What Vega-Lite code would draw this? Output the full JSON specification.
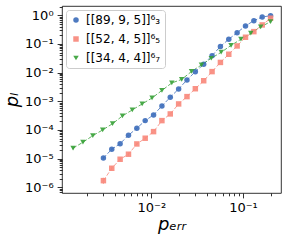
{
  "$schema": "https://vega.github.io/schema/vega-lite/v6.json",
  "autosize": {"type": "none"},
  "padding": {"left": 62, "top": 6, "right": 7, "bottom": 47},
  "width": 219,
  "height": 187,
  "config": {
    "font": "DejaVu Sans",
    "view": {"stroke": "#000000", "strokeWidth": 0.8},
    "axis": {"grid": false, "domain": false, "tickColor": "#000000", "tickWidth": 0.8, "labelColor": "#000000", "labelFont": "DejaVu Sans", "labelFontSize": 13, "labelPadding": 4, "titleFont": "DejaVu Sans", "titleFontSize": 18, "titleFontWeight": "normal", "titleFontStyle": "italic", "titleColor": "#000000"},
    "legend": {"orient": "top-left", "offset": 4, "fillColor": "white", "strokeColor": "#cccccc", "cornerRadius": 3, "padding": 4, "rowPadding": 7, "symbolSize": 30, "symbolOpacity": 0.9, "labelFont": "DejaVu Sans", "labelFontSize": 12, "labelColor": "#000000"}
  },
  "datasets": {
    "pts": [
      {"code": "[[89, 9, 5]]⁶₃", "p": 0.003, "pl": 1.05e-5, "lo": 9.4e-6, "hi": 1.17e-5},
      {"code": "[[89, 9, 5]]⁶₃", "p": 0.003701, "pl": 2.12e-5, "lo": 1.95e-5, "hi": 2.3e-5},
      {"code": "[[89, 9, 5]]⁶₃", "p": 0.004566, "pl": 3.32e-5},
      {"code": "[[89, 9, 5]]⁶₃", "p": 0.005633, "pl": 6.52e-5},
      {"code": "[[89, 9, 5]]⁶₃", "p": 0.00695, "pl": 1.145e-4},
      {"code": "[[89, 9, 5]]⁶₃", "p": 0.008574, "pl": 2.11e-4},
      {"code": "[[89, 9, 5]]⁶₃", "p": 0.010578, "pl": 3.33e-4},
      {"code": "[[89, 9, 5]]⁶₃", "p": 0.01305, "pl": 6.86e-4},
      {"code": "[[89, 9, 5]]⁶₃", "p": 0.0161, "pl": 1.38e-3},
      {"code": "[[89, 9, 5]]⁶₃", "p": 0.019863, "pl": 2.69e-3},
      {"code": "[[89, 9, 5]]⁶₃", "p": 0.024495, "pl": 5.53e-3},
      {"code": "[[89, 9, 5]]⁶₃", "p": 0.03022, "pl": 0.01078},
      {"code": "[[89, 9, 5]]⁶₃", "p": 0.037283, "pl": 0.01954},
      {"code": "[[89, 9, 5]]⁶₃", "p": 0.045996, "pl": 0.039},
      {"code": "[[89, 9, 5]]⁶₃", "p": 0.056746, "pl": 0.0816},
      {"code": "[[89, 9, 5]]⁶₃", "p": 0.070009, "pl": 0.1455},
      {"code": "[[89, 9, 5]]⁶₃", "p": 0.08637, "pl": 0.247},
      {"code": "[[89, 9, 5]]⁶₃", "p": 0.106557, "pl": 0.424},
      {"code": "[[89, 9, 5]]⁶₃", "p": 0.131461, "pl": 0.648},
      {"code": "[[89, 9, 5]]⁶₃", "p": 0.162186, "pl": 0.87},
      {"code": "[[89, 9, 5]]⁶₃", "p": 0.2, "pl": 0.96},
      {"code": "[[52, 4, 5]]⁶₅", "p": 0.003, "pl": 1.7e-6, "lo": 1.3e-6, "hi": 2.15e-6},
      {"code": "[[52, 4, 5]]⁶₅", "p": 0.003701, "pl": 4.6e-6, "lo": 3.8e-6, "hi": 5.5e-6},
      {"code": "[[52, 4, 5]]⁶₅", "p": 0.004566, "pl": 9.48e-6, "lo": 8.2e-6, "hi": 1.1e-5},
      {"code": "[[52, 4, 5]]⁶₅", "p": 0.005633, "pl": 1.42e-5, "lo": 1.22e-5, "hi": 1.65e-5},
      {"code": "[[52, 4, 5]]⁶₅", "p": 0.00695, "pl": 3.24e-5, "lo": 2.9e-5, "hi": 3.65e-5},
      {"code": "[[52, 4, 5]]⁶₅", "p": 0.008574, "pl": 5.13e-5, "lo": 4.7e-5, "hi": 5.6e-5},
      {"code": "[[52, 4, 5]]⁶₅", "p": 0.010578, "pl": 8.71e-5},
      {"code": "[[52, 4, 5]]⁶₅", "p": 0.01305, "pl": 2.11e-4},
      {"code": "[[52, 4, 5]]⁶₅", "p": 0.0161, "pl": 3.61e-4},
      {"code": "[[52, 4, 5]]⁶₅", "p": 0.019863, "pl": 8.06e-4},
      {"code": "[[52, 4, 5]]⁶₅", "p": 0.024495, "pl": 1.45e-3},
      {"code": "[[52, 4, 5]]⁶₅", "p": 0.03022, "pl": 2.73e-3},
      {"code": "[[52, 4, 5]]⁶₅", "p": 0.037283, "pl": 5.19e-3},
      {"code": "[[52, 4, 5]]⁶₅", "p": 0.045996, "pl": 0.0108},
      {"code": "[[52, 4, 5]]⁶₅", "p": 0.056746, "pl": 0.0226},
      {"code": "[[52, 4, 5]]⁶₅", "p": 0.070009, "pl": 0.0436},
      {"code": "[[52, 4, 5]]⁶₅", "p": 0.08637, "pl": 0.0849},
      {"code": "[[52, 4, 5]]⁶₅", "p": 0.106557, "pl": 0.171},
      {"code": "[[52, 4, 5]]⁶₅", "p": 0.131461, "pl": 0.268},
      {"code": "[[52, 4, 5]]⁶₅", "p": 0.162186, "pl": 0.459},
      {"code": "[[52, 4, 5]]⁶₅", "p": 0.2, "pl": 0.786},
      {"code": "[[34, 4, 4]]⁶₇", "p": 0.0014, "pl": 2.3e-5, "lo": 2.1e-5, "hi": 2.5e-5},
      {"code": "[[34, 4, 4]]⁶₇", "p": 0.001794, "pl": 3.72e-5, "lo": 3.5e-5, "hi": 3.95e-5},
      {"code": "[[34, 4, 4]]⁶₇", "p": 0.002299, "pl": 6.31e-5},
      {"code": "[[34, 4, 4]]⁶₇", "p": 0.002946, "pl": 9.97e-5},
      {"code": "[[34, 4, 4]]⁶₇", "p": 0.003776, "pl": 1.65e-4},
      {"code": "[[34, 4, 4]]⁶₇", "p": 0.004839, "pl": 3.07e-4},
      {"code": "[[34, 4, 4]]⁶₇", "p": 0.006201, "pl": 4.98e-4},
      {"code": "[[34, 4, 4]]⁶₇", "p": 0.007947, "pl": 8.06e-4},
      {"code": "[[34, 4, 4]]⁶₇", "p": 0.010185, "pl": 1.3e-3},
      {"code": "[[34, 4, 4]]⁶₇", "p": 0.013052, "pl": 2.38e-3},
      {"code": "[[34, 4, 4]]⁶₇", "p": 0.016733, "pl": 4.35e-3},
      {"code": "[[34, 4, 4]]⁶₇", "p": 0.021446, "pl": 5.77e-3},
      {"code": "[[34, 4, 4]]⁶₇", "p": 0.027484, "pl": 0.01096},
      {"code": "[[34, 4, 4]]⁶₇", "p": 0.035221, "pl": 0.01847},
      {"code": "[[34, 4, 4]]⁶₇", "p": 0.045136, "pl": 0.0316},
      {"code": "[[34, 4, 4]]⁶₇", "p": 0.057844, "pl": 0.0512},
      {"code": "[[34, 4, 4]]⁶₇", "p": 0.074131, "pl": 0.0885},
      {"code": "[[34, 4, 4]]⁶₇", "p": 0.095002, "pl": 0.1455},
      {"code": "[[34, 4, 4]]⁶₇", "p": 0.121749, "pl": 0.2356},
      {"code": "[[34, 4, 4]]⁶₇", "p": 0.156022, "pl": 0.391},
      {"code": "[[34, 4, 4]]⁶₇", "p": 0.2, "pl": 0.598}
    ]
  },
  "data": {"name": "pts"},
  "encoding": {
    "x": {
      "field": "p", "type": "quantitative",
      "scale": {"type": "log", "domain": [0.00106, 0.26], "nice": false},
      "axis": {
        "title": "pₑᵣᵣ",
        "titlePadding": 1,
        "values": [0.002, 0.003, 0.004, 0.005, 0.006, 0.007, 0.008, 0.009, 0.01, 0.02, 0.03, 0.04, 0.05, 0.06, 0.07, 0.08, 0.09, 0.1, 0.2],
        "labelExpr": "datum.value == 0.01 ? '10⁻²' : (datum.value == 0.1 ? '10⁻¹' : '')",
        "tickSize": {"condition": {"test": "datum.value == 0.01 || datum.value == 0.1", "value": 4.9}, "value": 2.8}
      }
    },
    "y": {
      "field": "pl", "type": "quantitative",
      "scale": {"type": "log", "domain": [6.3e-7, 2.1], "nice": false},
      "axis": {
        "title": "pₗ",
        "titlePadding": 3,
        "values": [7e-7, 8e-7, 9e-7, 1e-6, 2e-6, 3e-6, 4e-6, 5e-6, 6e-6, 7e-6, 8e-6, 9e-6, 1e-5, 2e-5, 3e-5, 4e-5, 5e-5, 6e-5, 7e-5, 8e-5, 9e-5, 1e-4, 2e-4, 3e-4, 4e-4, 5e-4, 6e-4, 7e-4, 8e-4, 9e-4, 0.001, 0.002, 0.003, 0.004, 0.005, 0.006, 0.007, 0.008, 0.009, 0.01, 0.02, 0.03, 0.04, 0.05, 0.06, 0.07, 0.08, 0.09, 0.1, 0.2, 0.3, 0.4, 0.5, 0.6, 0.7, 0.8, 0.9, 1, 2],
        "labelExpr": "abs(log(datum.value)/LN10 - round(log(datum.value)/LN10)) > 0.001 ? '' : (round(log(datum.value)/LN10) == 0 ? '10⁰' : round(log(datum.value)/LN10) == -1 ? '10⁻¹' : round(log(datum.value)/LN10) == -2 ? '10⁻²' : round(log(datum.value)/LN10) == -3 ? '10⁻³' : round(log(datum.value)/LN10) == -4 ? '10⁻⁴' : round(log(datum.value)/LN10) == -5 ? '10⁻⁵' : '10⁻⁶')",
        "tickSize": {"condition": {"test": "abs(log(datum.value)/LN10 - round(log(datum.value)/LN10)) < 0.001", "value": 4.9}, "value": 2.8}
      }
    }
  },
  "layer": [
    {
      "mark": {"type": "line", "strokeDash": [4, 2], "strokeWidth": 0.8},
      "encoding": {
        "stroke": {"field": "code", "type": "nominal", "legend": null,
          "scale": {"range": ["#35a035", "#f8877a", "#3b6cba"]}}
      }
    },
    {
      "transform": [{"filter": "isValid(datum.lo)"}],
      "mark": {"type": "rule", "strokeWidth": 1.2, "opacity": 0.6},
      "encoding": {
        "y": {"field": "lo", "type": "quantitative"},
        "y2": {"field": "hi"},
        "stroke": {"field": "code", "type": "nominal", "legend": null}
      }
    },
    {
      "mark": {"type": "point", "filled": true, "opacity": 0.9, "size": 30},
      "encoding": {
        "color": {"field": "code", "type": "nominal", "title": null,
          "scale": {"domain": ["[[89, 9, 5]]⁶₃", "[[52, 4, 5]]⁶₅", "[[34, 4, 4]]⁶₇"], "range": ["#3b6cba", "#f8877a", "#35a035"]}},
        "shape": {"field": "code", "type": "nominal", "title": null,
          "scale": {"domain": ["[[89, 9, 5]]⁶₃", "[[52, 4, 5]]⁶₅", "[[34, 4, 4]]⁶₇"], "range": ["circle", "square", "triangle-down"]}}
      }
    }
  ]
}
